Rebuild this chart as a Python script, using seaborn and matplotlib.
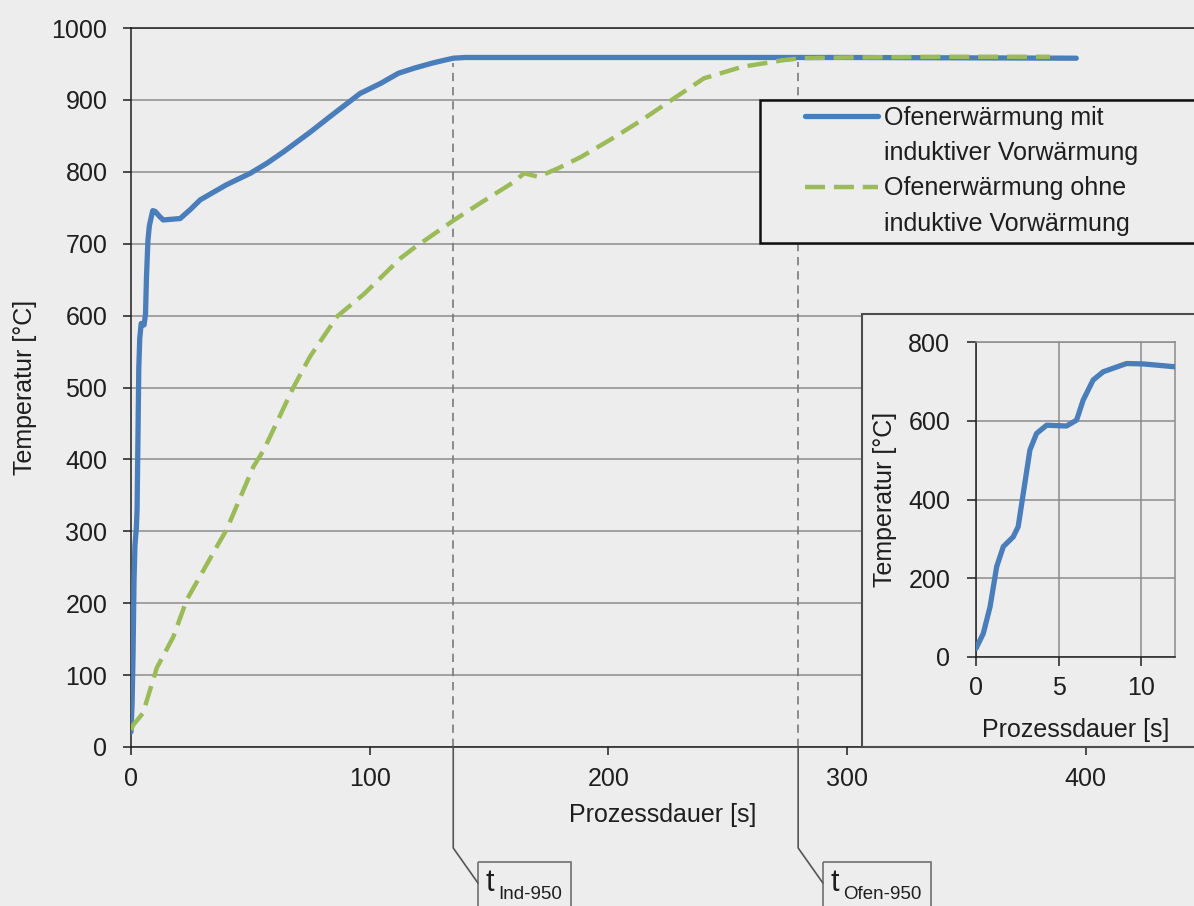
import numpy as np
import pandas as pd
import matplotlib
matplotlib.use("Agg")
import matplotlib.pyplot as plt
import seaborn as sns
from matplotlib.transforms import Affine2D
from matplotlib.patches import Rectangle
from matplotlib.lines import Line2D

# ---------------- data ----------------
t_ind = [0, 0.44, 0.85, 1.25, 1.65, 2.25, 2.55, 2.86, 3.26, 3.66, 4.27, 5.47, 6.08, 6.48,
         7.08, 7.69, 8.29, 9.1, 10.1, 11.95, 13.5, 17, 20.6, 25, 29, 40, 50, 57, 64, 75,
         85, 96, 104.6, 112, 118.5, 126, 131, 135, 140, 200, 300, 396]
T_ind = [21, 59, 127, 229, 280, 305, 331, 416, 526, 568, 589, 587, 602, 653,
         704, 725, 734, 746, 745, 738, 733, 734, 735, 748, 761, 782, 798, 812, 828, 855,
         881, 909, 923, 937, 944, 951, 955, 958, 959, 959, 959, 958]

t_ofen = [0, 1, 5, 10.8, 17.7, 23.4, 36, 40, 51.3, 55.6, 68, 75, 86.4, 97.6, 113, 118.5,
          135.4, 146.6, 160, 164.7, 170.6, 179, 188.7, 202.5, 214, 226.5, 240, 256, 272.7,
          281, 300, 340, 385]
T_ofen = [24, 31, 47, 110, 153, 205, 279, 302, 390, 413, 500, 543, 599, 630, 680, 694,
          733, 757, 785, 798, 793, 805, 821, 848, 872, 900, 930, 946, 955,
          958, 959, 960, 960]

t_marks = [135.0, 279.5]
mark_labels = [("t", "Ind-950"), ("t", "Ofen-950")]

legend_labels = ["Ofenerwärmung mit", "induktiver Vorwärmung",
                 "Ofenerwärmung ohne", "induktive Vorwärmung"]
x_ticks = [0, 100, 200, 300, 400]
y_ticks = list(range(0, 1001, 100))
inset_x_ticks = [0, 5, 10]
inset_y_ticks = [0, 200, 400, 600, 800]

# ---------------- style ----------------
W, H = 1194, 906
BG = "#ededed"
BLUE = "#4a7ebb"
GREEN = "#9bbb59"
DARK = "#1e1e1e"
GRID = "#8c8c8c"

sns.set_theme(style="white")
plt.rcParams['font.family'] = ['Liberation Sans', 'DejaVu Sans']
plt.rcParams['font.size'] = 18
plt.rcParams['text.color'] = DARK
plt.rcParams['axes.labelcolor'] = DARK
plt.rcParams['xtick.color'] = DARK
plt.rcParams['ytick.color'] = DARK

fig = plt.figure(figsize=(W / 100, H / 100), dpi=100, facecolor=BG)
pix = Affine2D().scale(1 / W, -1 / H).translate(0, 1) + fig.transFigure

px_per_s = 2.387
ax_left, ax_top, ax_bottom = 131, 28, 747
ax = fig.add_axes([ax_left / W, 1 - ax_bottom / H, (W - ax_left) / W, (ax_bottom - ax_top) / H])
ax.set_facecolor(BG)

df_ind = pd.DataFrame({"t": t_ind, "T": T_ind})
df_ofen = pd.DataFrame({"t": t_ofen, "T": T_ofen})

sns.lineplot(data=df_ind, x="t", y="T", ax=ax, color=BLUE, linewidth=3.8, zorder=3,
             solid_joinstyle="round", solid_capstyle="round")
sns.lineplot(data=df_ofen, x="t", y="T", ax=ax, color=GREEN, linewidth=3.2, zorder=4,
             linestyle=(0, (4.5, 2.0)), dash_joinstyle="round")
blue_line, green_line = ax.lines[0], ax.lines[1]

# vertical dashed marker lines
for tm in t_marks:
    top = np.interp(tm, t_ind, T_ind) - 6
    ax.plot([tm, tm], [0, top], color="#7a7a7a", linewidth=1.2,
            linestyle=(0, (5, 3.5)), zorder=2)

ax.set_xlim(0, (W - ax_left) / px_per_s)
ax.set_ylim(0, 1000)
ax.set_xticks(x_ticks)
ax.set_yticks(y_ticks)
ax.grid(axis="y", color=GRID, linewidth=1.1)
ax.grid(axis="x", visible=False)
ax.set_axisbelow(True)
for s in ["left", "bottom", "top"]:
    ax.spines[s].set_color(DARK)
    ax.spines[s].set_linewidth(1.1)
ax.spines["right"].set_visible(False)
ax.tick_params(axis="both", which="major", bottom=True, left=True, direction="out",
               length=6, width=1.1, color=DARK, labelsize=18)
ax.tick_params(axis="x", pad=8.5)
ax.tick_params(axis="y", pad=11)

ax.set_xlabel("Prozessdauer [s]", fontsize=18)
ax.set_ylabel("Temperatur [°C]", fontsize=18)
ax.xaxis.set_label_coords(0.5, -(815 - ax_bottom) / (ax_bottom - ax_top))
ax.xaxis.label.set_va("center")
ax.yaxis.set_label_coords((25 - ax_left) / (W - ax_left), 0.5)
ax.yaxis.label.set_va("center")

# leader lines and boxes below the axis
box_widths = [93.3, 108.0]
for tm, (main, sub), bw in zip(t_marks, mark_labels, box_widths):
    xd = ax.transData.transform((tm, 0))[0]
    fig.add_artist(Line2D([xd, xd, xd + 24.7], [ax_bottom, 848, 883], transform=pix,
                          color="#555555", linewidth=1.2))
    bx = xd + 24.7
    fig.add_artist(Rectangle((bx, 862), bw, 60, transform=pix, facecolor="none",
                             edgecolor="#707070", linewidth=1.2))
    fig.text(bx + 8.0, 891, main, transform=pix, fontsize=22, va="baseline", ha="left")
    fig.text(bx + 20.0, 899, sub, transform=pix, fontsize=13.5, va="baseline", ha="left")

# legend box
fig.add_artist(Rectangle((760, 100), 450, 143, transform=pix, facecolor=BG,
                         edgecolor="#111111", linewidth=1.8, zorder=2))
blank = Line2D([], [], linestyle="none")
leg = fig.legend([blue_line, blank, green_line, blank], legend_labels,
                 loc="upper left", bbox_to_anchor=(805 / W, 1 - 106 / H),
                 frameon=False, borderpad=0, borderaxespad=0, handlelength=2.92,
                 handletextpad=0.25, labelspacing=0.45, fontsize=18)
leg.set_zorder(3)

# inset frame
fig.add_artist(Rectangle((862, 314), 350, 433, transform=pix, facecolor=BG,
                         edgecolor="#4d4d4d", linewidth=1.5, zorder=2))

i_left, i_right, i_top, i_bottom = 976, 1174.5, 342.3, 656.7
axin = fig.add_axes([i_left / W, 1 - i_bottom / H, (i_right - i_left) / W, (i_bottom - i_top) / H],
                    zorder=5)
axin.set_facecolor(BG)
sns.lineplot(data=df_ind, x="t", y="T", ax=axin, color=BLUE, linewidth=3.8, zorder=3,
             solid_joinstyle="round", solid_capstyle="round")
axin.set_xlim(0, 12)
axin.set_ylim(0, 800)
axin.set_xticks(inset_x_ticks)
axin.set_yticks(inset_y_ticks)
axin.grid(True, color=GRID, linewidth=1.1)
axin.set_axisbelow(True)
for s in ["left", "bottom"]:
    axin.spines[s].set_color(DARK)
    axin.spines[s].set_linewidth(1.1)
for s in ["top", "right"]:
    axin.spines[s].set_color(GRID)
    axin.spines[s].set_linewidth(1.1)
axin.tick_params(axis="both", bottom=True, left=True, direction="out", length=6.5,
                 width=1.1, color=DARK, labelsize=18)
axin.tick_params(axis="x", pad=7.5)
axin.tick_params(axis="y", pad=12)
axin.set_xlabel("Prozessdauer [s]", fontsize=18)
axin.set_ylabel("Temperatur [°C]", fontsize=18)
axin.xaxis.set_label_coords(0.5, -(730 - i_bottom) / (i_bottom - i_top))
axin.xaxis.label.set_va("center")
axin.yaxis.set_label_coords((885 - i_left) / (i_right - i_left), 0.5)
axin.yaxis.label.set_va("center")

fig.savefig("out.png", dpi=100, facecolor=BG)
